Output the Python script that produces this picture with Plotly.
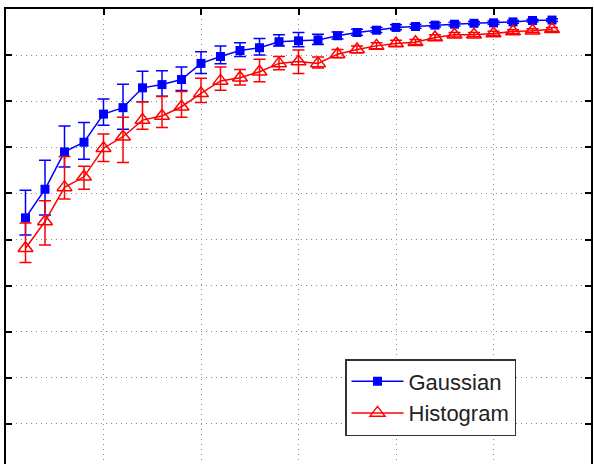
import plotly.graph_objects as go

x_vals = [1, 2, 3, 4, 5, 6, 7, 8, 9, 10, 11, 12, 13, 14, 15, 16, 17, 18, 19, 20,
          21, 22, 23, 24, 25, 26, 27, 28]

gauss = [54.7, 60.9, 69.0, 71.1, 77.2, 78.6, 82.9, 83.6, 84.7, 88.2, 89.7, 91.0, 91.6, 92.9,
         93.1, 93.3, 94.2, 94.9, 95.4, 96.0, 96.2, 96.5, 96.7, 96.9, 97.0, 97.2, 97.5, 97.6]
gauss_up = [6.0, 6.3, 5.6, 4.3, 3.3, 5.1, 3.6, 3.0, 2.7, 2.5, 2.3, 1.7, 2.0, 1.5,
            1.8, 1.2, 0.8, 0.7, 0.6, 0.6, 0.5, 0.5, 0.4, 0.4, 0.4, 0.3, 0.3, 0.3]
gauss_dn = [3.7, 5.6, 3.3, 3.7, 2.4, 4.7, 3.0, 2.5, 2.4, 2.2, 1.6, 1.3, 1.6, 0.9,
            1.3, 1.0, 0.7, 0.6, 0.5, 0.5, 0.4, 0.4, 0.4, 0.3, 0.3, 0.3, 0.3, 0.3]

hist = [48.1, 53.9, 61.3, 63.6, 69.8, 72.3, 75.9, 76.8, 78.8, 81.7, 84.4, 85.1, 86.4, 88.2,
        88.6, 88.2, 90.2, 91.2, 92.0, 92.5, 92.8, 93.8, 94.4, 94.4, 94.7, 95.1, 95.3, 95.6]
hist_up = [5.5, 4.5, 6.7, 2.3, 3.1, 4.2, 4.0, 4.2, 3.3, 3.3, 3.0, 1.8, 2.7, 1.5,
           2.5, 1.4, 1.0, 0.8, 0.7, 0.7, 0.6, 0.6, 0.5, 0.5, 0.5, 0.4, 0.4, 0.4]
hist_dn = [3.1, 5.1, 2.5, 2.7, 2.9, 5.6, 2.0, 2.5, 2.3, 2.0, 2.0, 1.6, 2.2, 1.4,
           2.6, 1.0, 0.8, 0.7, 0.6, 0.6, 0.5, 0.5, 0.5, 0.4, 0.4, 0.4, 0.4, 0.4]

x_ticks = [0, 5, 10, 15, 20, 25, 30]
y_ticks = [0, 10, 20, 30, 40, 50, 60, 70, 80, 90, 100]

BLUE = "rgb(0,0,255)"
RED = "rgb(255,0,0)"

fig = go.Figure()
fig.add_trace(go.Scatter(
    x=x_vals, y=gauss, name="Gaussian", mode="lines+markers",
    line=dict(color=BLUE, width=1.5),
    marker=dict(symbol="square", size=9, color=BLUE),
    error_y=dict(type="data", symmetric=False, array=gauss_up, arrayminus=gauss_dn,
                 color=BLUE, thickness=1.5, width=6),
))
fig.add_trace(go.Scatter(
    x=x_vals, y=hist, name="Histogram", mode="lines+markers",
    line=dict(color=RED, width=1.5),
    marker=dict(symbol="triangle-up-open", size=13, color=RED, line=dict(width=1.5, color=RED)),
    error_y=dict(type="data", symmetric=False, array=hist_up, arrayminus=hist_dn,
                 color=RED, thickness=1.5, width=6),
))

fig.update_layout(
    width=594, height=464,
    margin=dict(l=6, r=3, t=9, b=0, autoexpand=False),
    paper_bgcolor="white", plot_bgcolor="white",
    font=dict(family="Liberation Sans, Arial, sans-serif", size=23, color="black"),
    showlegend=True,
    legend=dict(
        x=(345 - 6) / 585, y=(464 - 397.5) / 455, xanchor="left", yanchor="middle",
        bgcolor="white", bordercolor="#333333", borderwidth=1.5,
        font=dict(size=22, color="#222222"),
        itemwidth=52, tracegroupgap=0,
    ),
    xaxis=dict(
        range=[0, 30], tickvals=x_ticks, side="top", automargin=False,
        showline=True, linecolor="black", linewidth=2, mirror=False,
        ticks="inside", ticklen=6, tickwidth=1.5, tickcolor="black",
        showticklabels=False,
        showgrid=True, gridcolor="#8a8a8a", griddash="1px,4px", gridwidth=1,
        zeroline=False,
    ),
    yaxis=dict(
        range=[1.3, 100], tickvals=y_ticks, automargin=False,
        showline=True, linecolor="black", linewidth=2, mirror="ticks",
        ticks="inside", ticklen=6, tickwidth=1.5, tickcolor="black",
        showgrid=True, gridcolor="#8a8a8a", griddash="1px,4px", gridwidth=1,
        zeroline=False,
        tickfont=dict(size=23, color="black"),
    ),
)

fig.write_html("out.html")
